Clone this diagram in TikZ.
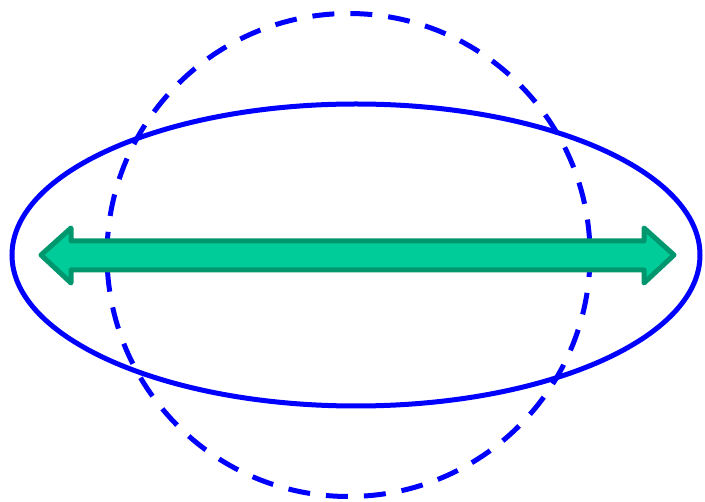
\documentclass[tikz,border=0pt]{standalone}
\usetikzlibrary{positioning}
\definecolor{ringblue}{RGB}{0,0,255}
\definecolor{arrowfill}{RGB}{0,204,153}
\definecolor{arrowedge}{RGB}{0,150,110}

\begin{document}
\begin{tikzpicture}[x=1pt,y=-1pt,line width=5pt,
    ring/.style={draw=ringblue},
    stretch/.style={fill=arrowfill,draw=arrowedge,line join=round}]
  \useasboundingbox (0,0) rectangle (705,502);
  % dashed circle and the flattened ellipse
  \draw[ring,dash pattern=on 22pt off 16pt] (348.5,255) circle[radius=241.5];
  \draw[ring] (356,255) ellipse[x radius=344,y radius=151];
  % double arrow
  \draw[stretch] (41,255) -- (71,228) -- (71,241) -- (644,241) -- (644,228)
    -- (674,255) -- (644,283) -- (644,270) -- (71,270) -- (71,283) -- cycle;
\end{tikzpicture}
\end{document}
